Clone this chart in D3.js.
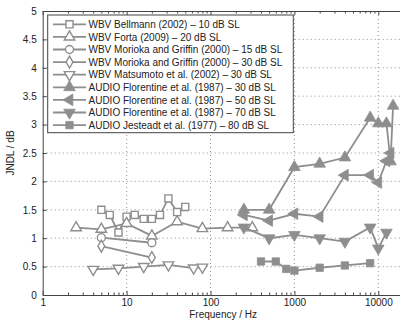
<!DOCTYPE html>
<html><head><meta charset="utf-8">
<script src="https://cdn.jsdelivr.net/npm/d3@7"></script>
<style>body{margin:0;background:#fff}svg{display:block;font-family:"Liberation Sans",Arial,sans-serif}</style>
</head><body><svg id="c" width="400" height="325"></svg>
<script>
const seriesNames = [
  "WBV Bellmann (2002) \u2013 10 dB SL",
  "WBV Forta (2009) \u2013 20 dB SL",
  "WBV Morioka and Griffin (2000) \u2013 15 dB SL",
  "WBV Morioka and Griffin (2000) \u2013 30 dB SL",
  "WBV Matsumoto et al. (2002) \u2013 30 dB SL",
  "AUDIO Florentine et al. (1987) \u2013 30 dB SL",
  "AUDIO Florentine et al. (1987) \u2013 50 dB SL",
  "AUDIO Florentine et al. (1987) \u2013 70 dB SL",
  "AUDIO Jesteadt et al. (1977) \u2013 80 dB SL"
];
const bellmannF = [5, 6.3, 8, 10, 12.5, 16, 20, 25, 31.5, 40, 50];
const bellmannV = [1.50, 1.41, 1.10, 1.38, 1.41, 1.34, 1.34, 1.41, 1.70, 1.46, 1.55];
const fortaF = [2.5, 5, 10, 20, 40, 80, 160, 315];
const fortaV = [1.185, 1.157, 1.26, 1.04, 1.29, 1.17, 1.185, 1.185];
const morioka15F = [5, 20];
const morioka15V = [1.01, 0.92];
const morioka30F = [5, 20];
const morioka30V = [0.86, 0.66];
const matsumotoF = [4, 8, 16, 31.5, 63, 80];
const matsumotoV = [0.45, 0.47, 0.50, 0.53, 0.475, 0.49];
const flor30F = [250, 500, 1000, 2000, 4000, 8000, 10000, 12500, 14000, 15000];
const flor30V = [1.50, 1.50, 2.25, 2.31, 2.42, 3.12, 3.02, 3.02, 2.35, 3.33];
const flor50F = [250, 500, 1000, 2000, 4000, 8000, 10000, 12500, 14000];
const flor50V = [1.41, 1.31, 1.43, 1.38, 2.11, 2.11, 1.98, 2.36, 2.5];
const flor70F = [250, 500, 1000, 2000, 4000, 8000, 10000, 12500];
const flor70V = [1.19, 1.00, 1.06, 1.00, 0.94, 1.19, 0.82, 1.10];
const jesteadtF = [400, 600, 800, 1000, 2000, 4000, 8000];
const jesteadtV = [0.59, 0.59, 0.46, 0.43, 0.48, 0.52, 0.56];
const xTickVals = [1, 10, 100, 1000, 10000];
const xTickLabels = ["1", "10", "100", "1000", "10000"];
const yTickVals = [0, 0.5, 1, 1.5, 2, 2.5, 3, 3.5, 4, 4.5, 5];
const yTickLabels = ["0", "0.5", "1", "1.5", "2", "2.5", "3", "3.5", "4", "4.5", "5"];

const allF = [bellmannF, fortaF, morioka15F, morioka30F, matsumotoF, flor30F, flor50F, flor70F, jesteadtF];
const allV = [bellmannV, fortaV, morioka15V, morioka30V, matsumotoV, flor30V, flor50V, flor70V, jesteadtV];
const markers = [
  {t: d3.symbolSquare, s: 50, r: 0, fill: false},
  {t: d3.symbolTriangle, s: 48, r: 0, fill: false},
  {t: d3.symbolCircle, s: 50, r: 0, fill: false},
  {t: d3.symbolDiamond, s: 40, r: 0, fill: false},
  {t: d3.symbolTriangle, s: 48, r: 180, fill: false},
  {t: d3.symbolTriangle, s: 58, r: 0, fill: true},
  {t: d3.symbolTriangle, s: 58, r: -90, fill: true},
  {t: d3.symbolTriangle, s: 58, r: 180, fill: true},
  {t: d3.symbolSquare, s: 54, r: 0, fill: true}
];
const gray = "#8e8e8e";
const svg = d3.select("#c");
const L = 42.7, T = 11, B = 295;
const x = d3.scaleLog().domain([1, 20000]).range([L, L + 83.9 * Math.log10(20000)]);
const y = d3.scaleLinear().domain([0, 5]).range([B, T]);
const R = x.range()[1];

// grid
const g = svg.append("g");
g.selectAll("line.gx").data(xTickVals.slice(1)).join("line")
  .attr("x1", d => x(d)).attr("x2", d => x(d)).attr("y1", T).attr("y2", B)
  .attr("stroke", "#777").attr("stroke-width", 0.8).attr("stroke-dasharray", "1,3");
g.selectAll("line.gy").data(yTickVals.slice(1, -1)).join("line")
  .attr("x1", L).attr("x2", R).attr("y1", d => y(d)).attr("y2", d => y(d))
  .attr("stroke", "#777").attr("stroke-width", 0.8).attr("stroke-dasharray", "1,3");

// axes
const minor = [];
for (let e = 0; e < 5; e++) for (let k = 2; k <= 9; k++) { const v = k * Math.pow(10, e); if (v <= 20000) minor.push(v); }
const axB = svg.append("g").attr("transform", `translate(0,${B})`)
  .call(d3.axisBottom(x).tickValues(xTickVals).tickFormat((d, i) => xTickLabels[i]).tickSizeInner(-4).tickSizeOuter(0).tickPadding(4));
const axBm = svg.append("g").attr("transform", `translate(0,${B})`)
  .call(d3.axisBottom(x).tickValues(minor).tickFormat("").tickSizeInner(-2.5).tickSizeOuter(0));
const axT = svg.append("g").attr("transform", `translate(0,${T})`)
  .call(d3.axisTop(x).tickValues(xTickVals).tickFormat("").tickSizeInner(-4).tickSizeOuter(0));
const axTm = svg.append("g").attr("transform", `translate(0,${T})`)
  .call(d3.axisTop(x).tickValues(minor).tickFormat("").tickSizeInner(-2.5).tickSizeOuter(0));
const axL = svg.append("g").attr("transform", `translate(${L},0)`)
  .call(d3.axisLeft(y).tickValues(yTickVals).tickFormat((d, i) => yTickLabels[i]).tickSizeInner(-4).tickSizeOuter(0).tickPadding(6));
[axB, axBm, axT, axTm, axL].forEach(a => {
  a.selectAll("path.domain").attr("stroke", "#444").attr("stroke-width", 1);
  a.selectAll(".tick line").attr("stroke", "#444");
  a.selectAll("text").attr("font-size", 10).attr("fill", "#222").attr("font-family", "Liberation Sans, Arial, sans-serif");
});

svg.append("text").attr("x", (L + R) / 2).attr("y", 318).attr("text-anchor", "middle")
  .attr("font-size", 10).attr("fill", "#222").text("Frequency / Hz");
svg.append("text").attr("transform", `translate(14,${(T + B) / 2}) rotate(-90)`).attr("text-anchor", "middle")
  .attr("font-size", 10).attr("fill", "#222").text("JNDL / dB");

// series
const line = d3.line().x(d => x(d[0])).y(d => y(d[1]));
function drawMarker(sel, m) {
  sel.attr("d", d3.symbol().type(m.t).size(m.s))
    .attr("fill", m.fill ? gray : "#fff").attr("stroke", gray).attr("stroke-width", m.fill ? 0.8 : 1.4);
}
const sg = svg.append("g");
allF.forEach((fs, i) => {
  const pts = fs.map((f, j) => [f, allV[i][j]]);
  sg.append("path").datum(pts).attr("d", line).attr("fill", "none").attr("stroke", gray).attr("stroke-width", 1.8);
  sg.selectAll(null).data(pts).join("path")
    .attr("transform", d => `translate(${x(d[0])},${y(d[1])}) rotate(${markers[i].r})`)
    .call(drawMarker, markers[i]);
});

// legend
const lg = svg.append("g");
lg.append("rect").attr("x", 47.7).attr("y", 15).attr("width", 245.6).attr("height", 117.7)
  .attr("fill", "#fff").attr("stroke", "#444").attr("stroke-width", 1);
seriesNames.forEach((n, i) => {
  const yy = 24.3 + i * 12.6;
  lg.append("line").attr("x1", 53).attr("x2", 86).attr("y1", yy).attr("y2", yy).attr("stroke", gray).attr("stroke-width", 1.8);
  lg.append("path").attr("transform", `translate(69.5,${yy}) rotate(${markers[i].r})`).call(drawMarker, markers[i]);
  lg.append("text").attr("x", 88.5).attr("y", yy + 3.6).attr("font-size", 10).attr("fill", "#222").text(n);
});
</script></body></html>
